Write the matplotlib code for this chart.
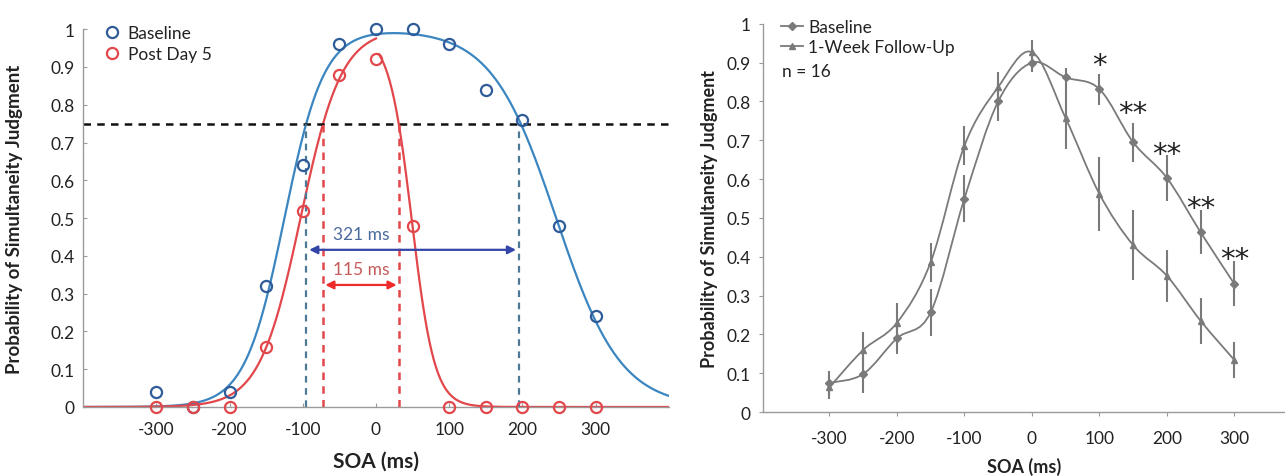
import matplotlib
matplotlib.use('Agg')
import matplotlib.pyplot as plt
from matplotlib.path import Path
from matplotlib.patches import PathPatch
from matplotlib.lines import Line2D
import numpy as np

plt.rcParams['font.family'] = ['Lato', 'DejaVu Sans']

# left panel: simultaneity judgment data
soa = [-300, -250, -200, -150, -100, -50, 0, 50, 100, 150, 200, 250, 300]
baseline = [0.04, 0.0, 0.04, 0.32, 0.64, 0.96, 1.0, 1.0, 0.96, 0.84, 0.76, 0.48, 0.24]
post_day5 = [0.0, 0.0, 0.0, 0.16, 0.52, 0.88, 0.92, 0.48, 0.0, 0.0, 0.0, 0.0, 0.0]

# fitted curves: difference of logistic functions (centre, slope)
base_fit = [1.0, -125, 27, 246, 44]
post_fit_left = [1.0, -103, 28]
post_fit_right = [1.0, 49, 15.5]

threshold = 0.75
base_edges = [-95, 195]
post_edges = [-73, 32]
base_label = '321 ms'
post_label = '115 ms'

# right panel: baseline vs follow-up
soa2 = [-300, -250, -200, -150, -100, -50, 0, 50, 100, 150, 200, 250, 300]
base2 = [0.075, 0.098, 0.19, 0.257, 0.55, 0.80, 0.90, 0.862, 0.832, 0.695, 0.603, 0.463, 0.33]
base2_err = [0.03, 0.05, 0.04, 0.06, 0.06, 0.05, 0.025, 0.025, 0.04, 0.05, 0.06, 0.057, 0.058]
follow2 = [0.064, 0.16, 0.23, 0.386, 0.686, 0.837, 0.927, 0.757, 0.562, 0.43, 0.351, 0.235, 0.134]
follow2_err = [0.03, 0.045, 0.05, 0.05, 0.05, 0.04, 0.03, 0.08, 0.095, 0.09, 0.067, 0.06, 0.046]
star_soa = [100, 150, 200, 250, 300]
star_y = [0.895, 0.77, 0.665, 0.525, 0.395]
star_text = ['*', '**', '**', '**', '**']

yticks = [0, 0.1, 0.2, 0.3, 0.4, 0.5, 0.6, 0.7, 0.8, 0.9, 1]
ytick_labels = ['0', '0.1', '0.2', '0.3', '0.4', '0.5', '0.6', '0.7', '0.8', '0.9', '1']
xticks = [-300, -200, -100, 0, 100, 200, 300]

BLUE = '#3b86c0'
BLUE_DOT = '#2f5c98'
RED = '#e2474b'
GRAY = '#7a7a7a'
TXT = '#222222'


def logistic(x, c, b):
    return 1.0 / (1.0 + np.exp(-(x - c) / b))


def smooth_path(x, y):
    # catmull-rom style bezier through the points, like a smoothed spreadsheet line
    x = np.asarray(x, float)
    y = np.asarray(y, float)
    verts = [(x[0], y[0])]
    codes = [Path.MOVETO]
    n = len(x)
    for i in range(n - 1):
        x0, y0 = (x[i - 1], y[i - 1]) if i > 0 else (x[i], y[i])
        x3, y3 = (x[i + 2], y[i + 2]) if i + 2 < n else (x[i + 1], y[i + 1])
        c1 = (x[i] + (x[i + 1] - x0) / 6, y[i] + (y[i + 1] - y0) / 6)
        c2 = (x[i + 1] - (x3 - x[i]) / 6, y[i + 1] - (y3 - y[i]) / 6)
        verts += [c1, c2, (x[i + 1], y[i + 1])]
        codes += [Path.CURVE4, Path.CURVE4, Path.CURVE4]
    return Path(verts, codes)


def style_axes(ax, direction):
    for s in ['top', 'right']:
        ax.spines[s].set_visible(False)
    for s in ['left', 'bottom']:
        ax.spines[s].set_color('#9a9a9a')
        ax.spines[s].set_linewidth(1.0)
    ax.tick_params(direction=direction, length=3, color='#9a9a9a', labelsize=12.5,
                   labelcolor=TXT, pad=6)
    ax.tick_params(axis='x', pad=10)
    ax.set_yticks(yticks)
    ax.set_yticklabels(ytick_labels)
    ax.set_xticks(xticks)
    ax.set_xticklabels([str(t) for t in xticks])


def left_panel(ax):
    xs = np.linspace(-400, 400, 801)
    a, c1, b1, c2, b2 = base_fit
    ax.plot(xs, a * (logistic(xs, c1, b1) - logistic(xs, c2, b2)), color=BLUE, lw=1.6)
    xl = xs[xs <= 0]
    xr = xs[xs >= 4]
    ax.plot(xl, post_fit_left[0] * logistic(xl, post_fit_left[1], post_fit_left[2]), color=RED, lw=1.6)
    ax.plot(xr, post_fit_right[0] * (1 - logistic(xr, post_fit_right[1], post_fit_right[2])) * 0.985,
            color=RED, lw=1.6)

    ax.plot(soa, baseline, 'o', mfc='none', mec=BLUE_DOT, mew=1.6, ms=8, clip_on=False,
            label='Baseline', zorder=5)
    ax.plot(soa, post_day5, 'o', mfc='none', mec=RED, mew=1.6, ms=8, clip_on=False,
            label='Post Day 5', zorder=5)

    ax.axhline(threshold, color='#111111', ls=(0, (3, 2.5)), lw=1.8)
    for e in base_edges:
        ax.plot([e, e], [0, threshold], color='#4d7896', ls=(0, (3, 2.5)), lw=1.6)
    for e in post_edges:
        ax.plot([e, e], [0, threshold], color=RED, ls=(0, (3, 2.5)), lw=1.8)

    ax.annotate('', xy=(base_edges[0], 0.416), xytext=(base_edges[1], 0.416),
                arrowprops=dict(arrowstyle='<|-|>', color='#3346a8', lw=1.6, mutation_scale=12))
    ax.annotate('', xy=(post_edges[0], 0.323), xytext=(post_edges[1], 0.323),
                arrowprops=dict(arrowstyle='<|-|>', color='#ee2a2a', lw=1.6, mutation_scale=12))
    ax.text(-20, 0.458, base_label, color='#4a6a9c', fontsize=12.5, ha='center', va='center')
    ax.text(-20, 0.365, post_label, color='#c45a5a', fontsize=12.5, ha='center', va='center')

    ax.set_xlim(-400, 400)
    ax.set_ylim(0, 1)
    style_axes(ax, 'in')
    ax.set_xlabel('SOA (ms)', fontsize=15, fontweight='bold', color=TXT, labelpad=10)
    ax.set_ylabel('Probability of Simultaneity Judgment', fontsize=13.5, fontweight='bold',
                  color=TXT, labelpad=20)
    leg = ax.legend(loc='upper left', bbox_to_anchor=(0.02, 1.03), frameon=False, fontsize=12.5,
                    handletextpad=0.3, borderaxespad=0, labelspacing=0.3, handlelength=1.2)
    for t in leg.get_texts():
        t.set_color(TXT)


def right_panel(ax):
    for ys, es, mk in [(base2, base2_err, 'D'), (follow2, follow2_err, '^')]:
        ax.add_patch(PathPatch(smooth_path(soa2, ys), fill=False, edgecolor=GRAY, lw=1.3))
        ax.errorbar(soa2, ys, yerr=es, fmt=mk, color=GRAY, ms=4, elinewidth=1.5, capsize=0,
                    clip_on=False)
    for x, y, s in zip(star_soa, star_y, star_text):
        ax.text(x, y, s, fontsize=21, ha='center', va='center', color=TXT, family='DejaVu Sans')

    ax.set_xlim(-398, 375)
    ax.set_ylim(0, 1)
    style_axes(ax, 'out')
    ax.set_xlabel('SOA (ms)', fontsize=13, fontweight='bold', color=TXT, labelpad=8)
    ax.set_ylabel('Probability of Simultaneity Judgment', fontsize=13, fontweight='bold',
                  color=TXT, labelpad=6)
    handles = [Line2D([], [], color=GRAY, marker='D', ms=4, lw=1.3),
               Line2D([], [], color=GRAY, marker='^', ms=4, lw=1.3)]
    leg = ax.legend(handles, ['Baseline', '1-Week Follow-Up'], loc='upper left',
                    bbox_to_anchor=(0.02, 1.03), frameon=False, fontsize=12.5,
                    handletextpad=0.3, borderaxespad=0, labelspacing=0.25, handlelength=1.3)
    for t in leg.get_texts():
        t.set_color(TXT)
    ax.text(0.035, 0.865, 'n = 16', transform=ax.transAxes, fontsize=12.5, color=TXT)


def main():
    fig = plt.figure(figsize=(12.85, 4.77), dpi=100)
    ax1 = fig.add_axes([0.0646, 0.1447, 0.456, 0.792])
    ax2 = fig.add_axes([0.594, 0.134, 0.406, 0.814])
    left_panel(ax1)
    right_panel(ax2)
    fig.savefig('out.png', dpi=100)


if __name__ == '__main__':
    main()
